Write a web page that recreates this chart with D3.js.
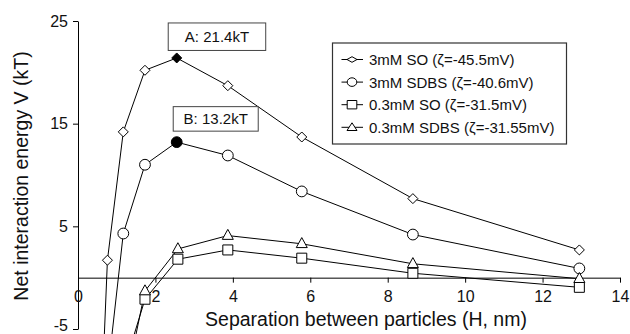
<!DOCTYPE html>
<html>
<head>
<meta charset="utf-8">
<script src="https://cdn.jsdelivr.net/npm/d3@7"></script>
<style>
  html, body { margin: 0; padding: 0; background: #fff; }
  svg { display: block; }
  text { font-family: "Liberation Sans", Arial, Helvetica, sans-serif; fill: #111; }
</style>
</head>
<body>
<svg id="chart" width="630" height="334"></svg>
<script>
// ---- data ----
const seriesNames = ["3mM SO (ζ=-45.5mV)", "3mM SDBS (ζ=-40.6mV)", "0.3mM SO (ζ=-31.5mV)", "0.3mM SDBS (ζ=-31.55mV)"];
const seriesShapes = ["diamond", "circle", "square", "triangle"];
const hSO3 = [0.5, 0.76, 1.17, 1.73, 2.55, 3.87, 5.78, 8.65, 12.95];
const vSO3 = [-22, 1.7, 14.2, 20.2, 21.4, 18.7, 13.7, 7.7, 2.7];
const hSDBS3 = [0.76, 1.17, 1.73, 2.55, 3.87, 5.78, 8.65, 12.95];
const vSDBS3 = [-9.5, 4.3, 11.0, 13.2, 11.9, 8.4, 4.2, 0.9];
const hSO03 = [1.17, 1.73, 2.58, 3.87, 5.78, 8.65, 12.95];
const vSO03 = [-9, -2.1, 1.8, 2.7, 1.9, 0.43, -0.94];
const hSDBS03 = [1.17, 1.73, 2.58, 3.87, 5.78, 8.65, 12.95];
const vSDBS03 = [-11.5, -1.3, 2.8, 4.1, 3.3, 1.35, -0.1];
const xTicks = [0, 2, 4, 6, 8, 10, 12, 14];
const yTicks = [-5, 5, 15, 25];
const xTitle = "Separation between particles (H, nm)";
const yTitle = "Net interaction energy V (kT)";
// annotations: series index, point index, label
const annSeries = [0, 1];
const annPoint = [4, 3];
const annLabels = ["A: 21.4kT", "B: 13.2kT"];

const seriesH = [hSO3, hSDBS3, hSO03, hSDBS03];
const seriesV = [vSO3, vSDBS3, vSO03, vSDBS03];

// ---- layout ----
const svg = d3.select("#chart");
const x = d3.scaleLinear().domain([0, 14]).range([78, 620]);
const y = d3.scaleLinear().domain([-5, 25]).range([329, 21]);

function shapePath(shape, s) {
  s = s || 1;
  switch (shape) {
    case "diamond": return `M0,${-5*s}L${5*s},0L0,${5*s}L${-5*s},0Z`;
    case "square": return `M${-5*s},${-5*s}H${5*s}V${5*s}H${-5*s}Z`;
    case "triangle": return `M0,${-6.2*s}L${5.5*s},${3.8*s}L${-5.5*s},${3.8*s}Z`;
    default: return null;
  }
}
function drawMarker(g, shape, cx, cy, filled, opts) {
  opts = opts || {};
  const fill = filled ? "#000" : "#fff";
  if (shape === "circle") {
    g.append("ellipse").attr("cx", cx).attr("cy", cy)
      .attr("rx", opts.rx || 5.4).attr("ry", opts.ry || 5.4)
      .attr("fill", fill).attr("stroke", "#000").attr("stroke-width", 1);
  } else {
    g.append("path").attr("d", opts.d || shapePath(shape))
      .attr("transform", `translate(${cx},${cy})`)
      .attr("fill", fill).attr("stroke", "#000").attr("stroke-width", 1);
  }
}

// clip
svg.append("clipPath").attr("id", "clip").append("rect")
  .attr("x", 78).attr("y", 0).attr("width", 552).attr("height", 334);

// Y axis
const yAxis = d3.axisLeft(y).tickValues(yTicks).tickSize(5).tickPadding(5).tickSizeOuter(0)
  .tickFormat(d => String(d));
const gy = svg.append("g").attr("transform", "translate(78,0)").call(yAxis);
gy.select(".domain").attr("stroke", "#000");
gy.selectAll(".tick line").attr("stroke", "#000");
gy.selectAll(".tick text").attr("font-size", 16).attr("font-family", "Liberation Sans, Arial, sans-serif").attr("fill", "#111")
  .attr("dy", d => d === -5 ? "0.1em" : "0.32em");

// X axis at y = 0
const xAxis = d3.axisBottom(x).tickValues(xTicks).tickSize(5).tickPadding(8).tickSizeOuter(0)
  .tickFormat(d => String(d));
const gx = svg.append("g").attr("transform", `translate(0,${y(0)})`).call(xAxis);
gx.select(".domain").attr("stroke", "#000");
gx.selectAll(".tick line").attr("stroke", "#000");
gx.selectAll(".tick text").attr("font-size", 16).attr("font-family", "Liberation Sans, Arial, sans-serif").attr("fill", "#111");

// Titles
svg.append("text").attr("x", 366).attr("y", 326).attr("text-anchor", "middle")
  .attr("font-size", 19.5).text(xTitle);
svg.append("text").attr("transform", "translate(28,176) rotate(-90)").attr("text-anchor", "middle")
  .attr("font-size", 19.5).text(yTitle);

// Series
const plot = svg.append("g").attr("clip-path", "url(#clip)");
const line = d3.line().x(d => x(d[0])).y(d => y(d[1]));
seriesH.forEach((hs, si) => {
  const pts = hs.map((h, i) => [h, seriesV[si][i]]);
  plot.append("path").attr("d", line(pts)).attr("fill", "none")
    .attr("stroke", "#000").attr("stroke-width", 1);
});
seriesH.forEach((hs, si) => {
  hs.forEach((h, i) => {
    const filled = annSeries.some((s, k) => s === si && annPoint[k] === i);
    drawMarker(plot, seriesShapes[si], x(h), y(seriesV[si][i]), filled);
  });
});

// Annotations
const annOffsets = [{dx: -8.5, dy: -35, w: 97.5, h: 27.5}, {dx: -3.5, dy: -35.5, w: 85, h: 24.5}];
annLabels.forEach((lab, k) => {
  const si = annSeries[k], pi = annPoint[k];
  const px = x(seriesH[si][pi]), py = y(seriesV[si][pi]);
  const o = annOffsets[k];
  svg.append("rect").attr("x", px + o.dx).attr("y", py + o.dy)
    .attr("width", o.w).attr("height", o.h)
    .attr("fill", "#fff").attr("stroke", "#444").attr("stroke-width", 1);
  svg.append("text").attr("x", px + o.dx + o.w / 2).attr("y", py + o.dy + o.h / 2 + 5.5)
    .attr("text-anchor", "middle").attr("font-size", 15).text(lab);
});

// Legend
const lg = svg.append("g");
lg.append("rect").attr("x", 332.5).attr("y", 43).attr("width", 234).attr("height", 101)
  .attr("fill", "#fff").attr("stroke", "#333").attr("stroke-width", 1.2);
const legendOpts = [
  {d: "M0,-2.8L5,0L0,2.8L-5,0Z"},
  {rx: 4.8, ry: 4.3},
  {d: "M-4.8,-4.2H4.8V4.2H-4.8Z"},
  {d: "M0,-4.5L5,3.2L-5,3.2Z"}
];
seriesNames.forEach((name, i) => {
  const cy = 59.5 + i * 22.6;
  lg.append("line").attr("x1", 341.5).attr("x2", 363).attr("y1", cy).attr("y2", cy)
    .attr("stroke", "#000").attr("stroke-width", 1);
  drawMarker(lg, seriesShapes[i], 352, cy, false, legendOpts[i]);
  lg.append("text").attr("x", 369).attr("y", cy + 5.5).attr("font-size", 15).text(name);
});
</script>
</body>
</html>
